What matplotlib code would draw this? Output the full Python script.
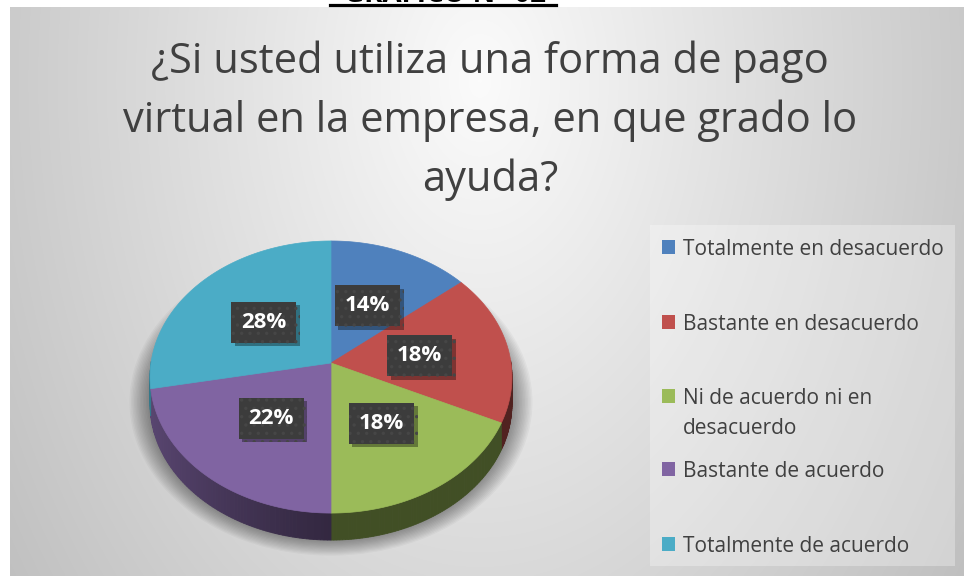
import textwrap
import numpy as np
import matplotlib
matplotlib.use('Agg')
import matplotlib.pyplot as plt
import matplotlib.patheffects as pe
from matplotlib.patches import Polygon, Rectangle, Ellipse

# Datos del gráfico
categorias = ['Totalmente en desacuerdo', 'Bastante en desacuerdo',
              'Ni de acuerdo ni en desacuerdo', 'Bastante de acuerdo',
              'Totalmente de acuerdo']
porcentajes = [14, 18, 18, 22, 28]
colores = ['#4F81BD', '#C0504D', '#9BBB59', '#8064A2', '#4BACC6']
titulo = '¿Si usted utiliza una forma de pago virtual en la empresa, en que grado lo ayuda?'
encabezado = 'GRÁFICO N° 02'

plt.rcParams['font.family'] = ['Open Sans', 'DejaVu Sans']
plt.rcParams['hatch.linewidth'] = 1.2

W, H = 964, 576
fig = plt.figure(figsize=(W / 100, H / 100), dpi=100, facecolor='white')
ax = fig.add_axes([0, 0, 1, 1])
ax.set_xlim(0, W)
ax.set_ylim(H, 0)
ax.axis('off')

# Fondo con degradado radial
xx, yy = np.meshgrid(np.linspace(10, W, 400), np.linspace(7, H, 300))
r = np.sqrt(((xx - 480) / 600) ** 2 + ((yy - 80) / 900) ** 2)
g = np.clip(0.985 - 0.24 * r, 0, 1)
ax.imshow(np.dstack([g, g, g]), extent=(10, W, H, 7), aspect='auto', zorder=0,
          interpolation='bilinear')

# Encabezado cortado arriba (solo se ve el borde inferior)
ax.text(445, 1.8, encabezado, ha='center', va='baseline', fontsize=20,
        fontweight='bold', color='black', zorder=1)
ax.plot([330, 556], [5, 5], color='black', lw=2.3, zorder=1)

# Título
for i, linea in enumerate(textwrap.wrap(titulo, 38)):
    ax.text(490, 73 + 59 * i, linea, ha='center', va='baseline', fontsize=30,
            color='#404040', zorder=2)

# Pastel 3D con perspectiva
cx, cy = 331, 363
Rx, Ry, d, prof = 180, 134.6, 9.7, 27


def proyectar(theta, rad=1.0):
    u = rad * np.cos(theta)
    v = -rad * np.sin(theta)
    s = d / (d - v)
    return cx + Rx * u * s, cy + Ry * v * s


# sombra
for k in range(14):
    ax.add_patch(Ellipse((cx, 402), 2 * (182 + 1.5 * k), 2 * (138 + 1.2 * k),
                         facecolor='black', edgecolor='none', alpha=0.03, zorder=3))

fracs = np.array(porcentajes) / sum(porcentajes)
limites = np.pi / 2 - 2 * np.pi * np.concatenate([[0], np.cumsum(fracs)])

# lados (solo la mitad frontal)
for i, col in enumerate(colores):
    ts = np.linspace(limites[i], limites[i + 1], 80)
    base = np.array(matplotlib.colors.to_rgb(col))
    for t0, t1 in zip(ts[:-1], ts[1:]):
        tm = (t0 + t1) / 2
        if np.sin(tm) > 0.02:
            continue
        x0, y0 = proyectar(t0)
        x1, y1 = proyectar(t1)
        u = np.cos(tm)
        f = 0.40 + 0.30 * (-u) ** 1.2 if u < 0 else 0.42
        ax.add_patch(Polygon([(x0, y0), (x1, y1), (x1, y1 + prof), (x0, y0 + prof)],
                             closed=True, facecolor=base * f, edgecolor=base * f,
                             lw=0.6, zorder=4))

# caras superiores
for i, col in enumerate(colores):
    ts = np.linspace(limites[i], limites[i + 1], 120)
    pts = [(cx, cy)] + [proyectar(t) for t in ts]
    ax.add_patch(Polygon(pts, closed=True, facecolor=col, edgecolor=col, lw=0.5,
                         zorder=5))

# etiquetas de datos
sombra = [pe.withSimplePatchShadow(offset=(2.5, -2.5), shadow_rgbFace='black', alpha=0.35)]
for i, p in enumerate(porcentajes):
    tm = (limites[i] + limites[i + 1]) / 2
    lx, ly = proyectar(tm, 0.5)
    t = ax.text(lx, ly + 1, f'{p}%', ha='center', va='center', fontsize=16,
                fontweight='bold', color='white', zorder=7,
                bbox=dict(boxstyle='square,pad=0.45', fc='#3C3C3C', ec='#464646',
                          lw=0, hatch='..'))
    t.get_bbox_patch().set_path_effects(sombra)

# Leyenda
ax.add_patch(Rectangle((650, 225), 305, 341, facecolor='white', edgecolor='none',
                       alpha=0.3, zorder=2))
leyenda_y = [247, 322, 396, 469, 544]
for col, cat, y in zip(colores, categorias, leyenda_y):
    ax.add_patch(Rectangle((662, y - 7), 13, 14, facecolor=col, edgecolor='none',
                           zorder=3))
    for j, linea in enumerate(textwrap.wrap(cat, 26)):
        ax.text(683, y + 8 + 30 * j, linea, ha='left', va='baseline',
                fontsize=15, color='#404040', zorder=3)

fig.savefig('out.png', dpi=100, facecolor='white')
